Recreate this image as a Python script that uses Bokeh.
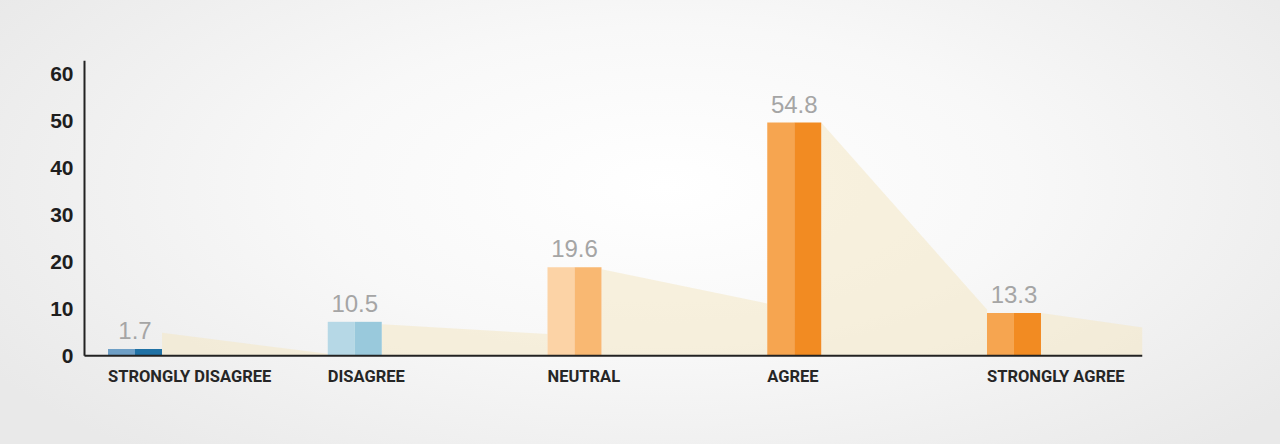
from bokeh.plotting import figure
from bokeh.models import Range1d, FixedTicker
from bokeh.core.properties import value
from bokeh.embed import file_html
from bokeh.resources import INLINE
import numpy as np

# ---- data ----
categories = ["STRONGLY DISAGREE", "DISAGREE", "NEUTRAL", "AGREE", "STRONGLY AGREE"]
percent_labels = ["1.7", "10.5", "19.6", "54.8", "13.3"]
bar_heights = [1.4, 7.2, 18.8, 49.6, 9.1]      # bar heights as drawn on the axis
shadow_start = [4.9, 6.7, 18.4, 49.6, 9.1]     # decorative shadow, left end height
shadow_end = [0.4, 4.6, 11.1, 9.8, 6.0]        # decorative shadow, right end height
y_ticks = [0, 10, 20, 30, 40, 50, 60]

light_colors = ["#6e9fc6", "#b6d8e6", "#fcd3a6", "#f6a550", "#f6a550"]
dark_colors = ["#1f71a5", "#99c9dc", "#f9b872", "#f28b22", "#f28b22"]

n = len(categories)
idx = np.arange(n, dtype=float)
bw = 0.2457                     # bar width (category units)
axis_x = -0.2298                # where the vertical axis line sits
x_start, x_end = -0.248, 4.5848
y_top = 62.8
label_gap = 3.9                 # value label centre above bar top (y units)
cat_label_y = -4.5              # category label centre (y units)

p = figure(width=1280, height=444, output_backend="svg", toolbar_location=None,
           x_range=Range1d(x_start, x_end), y_range=Range1d(-18.9, y_top),
           min_border_left=80, min_border_right=138, min_border_top=60, min_border_bottom=0,
           background_fill_color=None, border_fill_color=None, outline_line_color=None)
p.styles = {"background": "radial-gradient(ellipse 62% 80% at 52% 42%, #ffffff 0%, #f8f8f8 45%, #e9e9e9 100%)"}

# shadows
xs, ys = [], []
for i in range(n):
    x0 = idx[i] + bw / 2
    x1 = idx[i + 1] - bw / 2 if i + 1 < n else x_end
    xs.append([x0, x0, x1, x1])
    ys.append([0, shadow_start[i], shadow_end[i], 0])
p.patches(xs, ys, fill_color="#f4e8c4", fill_alpha=0.55, line_color=None)

# bars (two-tone halves)
p.vbar(x=idx - bw / 4, width=bw / 2, top=bar_heights, bottom=0,
       fill_color=light_colors, line_color=None)
p.vbar(x=idx + bw / 4, width=bw / 2, top=bar_heights, bottom=0,
       fill_color=dark_colors, line_color=None)

# axis lines (baseline and vertical axis)
p.segment(x0=[axis_x, axis_x], y0=[0, 0], x1=[x_end, axis_x], y1=[0, y_top],
          line_color="#222222", line_width=2)

# value labels
p.text(x=idx, y=np.array(bar_heights) + label_gap, text=percent_labels,
       text_align="center", text_baseline="middle",
       text_font=value("Liberation Sans"), text_font_size="24px", text_color="#a5a5a5")

# category labels
p.text(x=idx - bw / 2, y=[cat_label_y] * n, text=categories, text_align="left",
       text_baseline="middle",
       text_font=value("Roboto"), text_font_style="bold", text_font_size="16.5px",
       text_color="#262626")

p.xgrid.visible = False
p.ygrid.visible = False
p.xaxis.visible = False

p.yaxis.ticker = FixedTicker(ticks=y_ticks)
p.yaxis.major_tick_line_color = None
p.yaxis.minor_tick_line_color = None
p.yaxis.major_tick_out = 0
p.yaxis.major_tick_in = 0
p.yaxis.axis_line_color = None
p.yaxis.major_label_text_font = "Liberation Sans"
p.yaxis.major_label_text_font_style = "bold"
p.yaxis.major_label_text_font_size = "21px"
p.yaxis.major_label_text_color = "#1e1e1e"
p.yaxis.major_label_standoff = 7

open("out.html", "w").write(file_html(p, INLINE))
